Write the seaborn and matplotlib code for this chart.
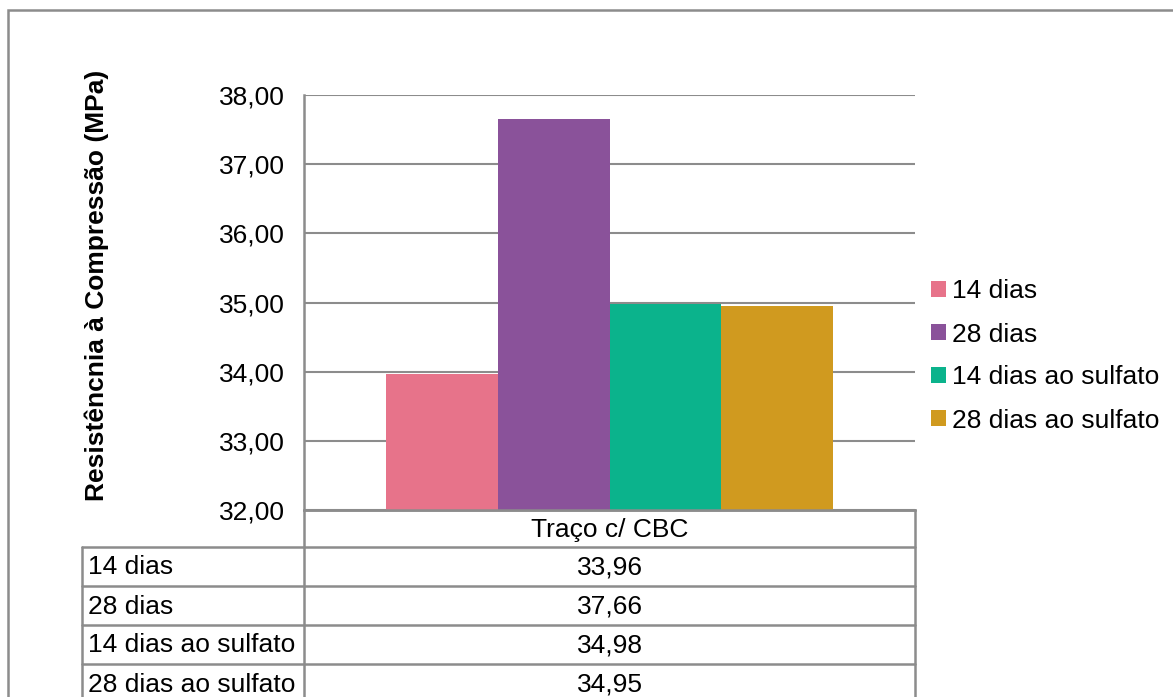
import matplotlib
matplotlib.use("Agg")
import matplotlib.pyplot as plt
from matplotlib.lines import Line2D
from matplotlib.patches import Rectangle
import pandas as pd
import seaborn as sns

# Compressive strength data (MPa)
grupo = "Traço c/ CBC"
series = ["14 dias", "28 dias", "14 dias ao sulfato", "28 dias ao sulfato"]
valores = [33.96, 37.66, 34.98, 34.95]
cores = ["#E7738A", "#8A529A", "#0BB38C", "#D09A1F"]
yticks = [32, 33, 34, 35, 36, 37, 38]
ylabel = "Resistêncnia à Compressão (MPa)"

sns.set_theme(style="white")
plt.rcParams["font.family"] = ["Liberation Sans", "DejaVu Sans"]
plt.rcParams["text.color"] = "black"
plt.rcParams["axes.labelcolor"] = "black"
plt.rcParams["ytick.color"] = "black"

W, H = 1173, 697
fig = plt.figure(figsize=(W / 100, H / 100), dpi=100)
fig.patch.set_facecolor("white")

GRAY = "#8C8C8C"
FS = 19


def fx(px):
    return px / W


def fy(py):
    return 1 - py / H


# plot area
x0, x1, ytop, ybot = 304, 915, 95, 510
ax = fig.add_axes([fx(x0), fy(ybot), fx(x1) - fx(x0), fy(ytop) - fy(ybot)])

df = pd.DataFrame({"grupo": [grupo] * len(series), "serie": series, "valor": valores})
sns.barplot(data=df, x="grupo", y="valor", hue="serie", hue_order=series,
            palette=cores, width=0.73, gap=0, linewidth=0, saturation=1,
            errorbar=None, ax=ax, zorder=3)

ax.set_ylim(yticks[0], yticks[-1])
ax.set_xlim(-0.5, 0.5)
ax.set_yticks(yticks)
ax.set_yticklabels([f"{v:.2f}".replace(".", ",") for v in yticks], fontsize=FS, color="black")
ax.tick_params(axis="y", length=0, pad=14)
ax.set_xticks([])
ax.set_xlabel("")
ax.set_ylabel("")
ax.grid(axis="y", color=GRAY, linewidth=1.5, zorder=0)
ax.set_axisbelow(True)
for s in ["top", "right"]:
    ax.spines[s].set_visible(False)
for s in ["left", "bottom"]:
    ax.spines[s].set_color(GRAY)
    ax.spines[s].set_linewidth(1.8)

fig.text(fx(97), fy(285), ylabel, rotation=90, ha="center", va="center",
         fontsize=FS, fontweight="bold", color="black")

# legend at the right of the plot area
handles, labels = ax.get_legend_handles_labels()
ax.legend(handles, labels, loc="center left", bbox_to_anchor=(fx(931), fy(356)),
          bbox_transform=fig.transFigure, frameon=False, fontsize=FS,
          handlelength=0.55, handleheight=0.55, handletextpad=0.25,
          labelspacing=0.72, borderpad=0, borderaxespad=0, labelcolor="black")

# data table below the chart
def hline(y, xa, xb):
    fig.add_artist(Line2D([fx(xa), fx(xb)], [fy(y), fy(y)], color=GRAY, linewidth=1.8))


def vline(x, ya, yb):
    fig.add_artist(Line2D([fx(x), fx(x)], [fy(ya), fy(yb)], color=GRAY, linewidth=1.8))


tbl_left = 82
rows = [547, 586, 625, 664, 703]
hline(510, x0, x1)
for y in rows[:-1]:
    hline(y, tbl_left, x1)
vline(tbl_left, rows[0], H + 5)
vline(x0, ybot, H + 5)
vline(x1, ybot, H + 5)

xc = (x0 + x1) / 2
fig.text(fx(xc), fy((510 + rows[0]) / 2 + 1), grupo, ha="center", va="center", fontsize=FS)
for i, (nome, v) in enumerate(zip(series, valores)):
    yc = (rows[i] + rows[i + 1]) / 2 + 1
    fig.text(fx(88), fy(yc), nome, ha="left", va="center", fontsize=FS)
    fig.text(fx(xc), fy(yc), f"{v:.2f}".replace(".", ","), ha="center", va="center", fontsize=FS)

# outer chart border
fig.add_artist(Rectangle((fx(8), fy(H + 20)), fx(W + 20), fy(10) - fy(H + 20),
                         transform=fig.transFigure, fill=False, edgecolor=GRAY, linewidth=1.8))

fig.savefig("out.png", dpi=100)
